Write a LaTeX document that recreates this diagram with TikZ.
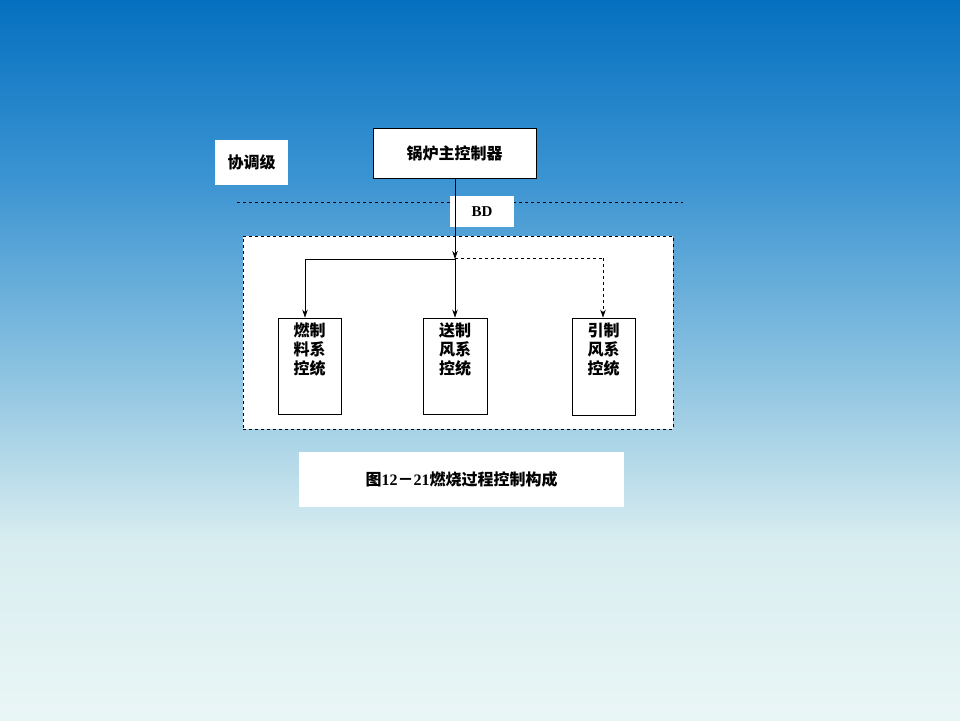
\documentclass[tikz,border=0pt]{standalone}
\usepackage{fontspec}
\setmainfont{Liberation Serif}
\newfontfamily\cjk{Noto Sans CJK SC}
\usetikzlibrary{arrows.meta}
\definecolor{bgA}{RGB}{5,112,192}
\definecolor{bgB}{RGB}{60,148,210}
\definecolor{bgC}{RGB}{135,192,224}
\definecolor{bgD}{RGB}{216,237,240}
\definecolor{bgE}{RGB}{234,246,246}
\pgfdeclareverticalshading{bgshade}{100bp}{%
  color(0bp)=(bgE);
  color(25bp)=(bgE);
  color(37.5bp)=(bgD);
  color(50bp)=(bgC);
  color(62.5bp)=(bgB);
  color(75bp)=(bgA);
  color(100bp)=(bgA)}
\tikzset{
  whitebox/.style={fill=white, draw=none},
  blackbox/.style={fill=white, draw=black, line width=0.8pt},
  lbl/.style={font=\cjk\fontsize{16}{19}\selectfont\bfseries, text=black},
  arr/.style={-{Stealth[length=8pt,width=5.5pt]}, line width=0.7pt},
}
\begin{document}
\begin{tikzpicture}[x=1pt,y=-1pt]
\useasboundingbox (0,0) rectangle (960,720);
\shade[shading=bgshade] (0,0) rectangle (960,720);
% labels
\node[whitebox, minimum width=73pt, minimum height=45pt] (xtj) at (251.5,162.5) {};
\node[lbl] at (xtj) {协调级};
\node[blackbox, minimum width=163pt, minimum height=50pt] (main) at (454.5,153) {};
\node[lbl] at (main) {锅炉主控制器};
% dashed level line
\coordinate (dl) at (237,202);
\coordinate (dr) at (683,202);
\draw[dashed, line width=0.7pt] (dl) -- (dr);
\node[whitebox, minimum width=64pt, minimum height=31pt] (bd) at (482,211.5) {};
\node[font=\fontsize{15}{18}\selectfont\bfseries] at (bd) {BD};
% dashed group
\node[fill=white, draw=black, dashed, line width=0.7pt, minimum width=430pt, minimum height=193pt] (grp) at (458,332.5) {};
% sub boxes
\node[blackbox, minimum width=63pt, minimum height=96pt] (b1) at (309.5,366) {};
\node[blackbox, minimum width=64pt, minimum height=96pt] (b2) at (455,366) {};
\node[blackbox, minimum width=63pt, minimum height=97pt] (b3) at (603.5,366.5) {};
\node[lbl, align=center, anchor=north] at ([yshift=-2pt]b1.north) {燃制\\料系\\控统};
\node[lbl, align=center, anchor=north] at ([yshift=-2pt]b2.north) {送制\\风系\\控统};
\node[lbl, align=center, anchor=north] at ([yshift=-2pt]b3.north) {引制\\风系\\控统};
% connectors
\coordinate (j) at (455,259);
\coordinate (jl) at (305,259);
\coordinate (jr) at (603,258);
\draw[arr] (main.south -| j) -- (j);
\draw[line width=0.7pt] (j) -- (jl);
\draw[dashed, line width=0.7pt] (j |- jr) -- (jr);
\draw[arr] (jl) -- (jl |- b1.north);
\draw[arr] (j) -- (j |- b2.north);
\draw[arr, dashed] (jr) -- (jr |- b3.north);
% caption
\node[whitebox, minimum width=325pt, minimum height=55pt] (cap) at (461.5,479.5) {};
\node[font=\fontsize{16}{19}\selectfont\bfseries] at (cap) {{\cjk 图}12{\cjk －}21{\cjk 燃烧过程控制构成}};
\end{tikzpicture}
\end{document}
